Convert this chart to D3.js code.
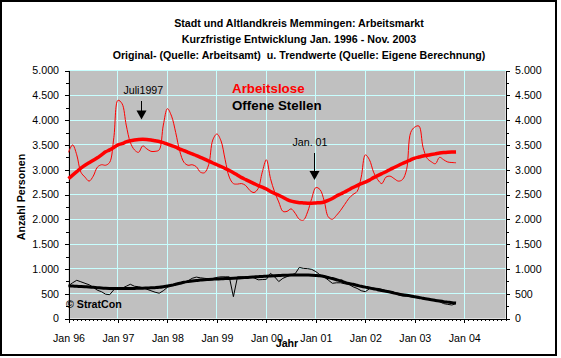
<!DOCTYPE html>
<html>
<head>
<meta charset="utf-8">
<script src="https://cdn.jsdelivr.net/npm/d3@7"></script>
<style>
body { margin: 0; background: #fff; }
text { font-family: Arial, "Liberation Sans", sans-serif; white-space: pre; }
</style>
</head>
<body>
<svg id="chart" width="561" height="358"></svg>
<script>
// monthly values Jan 96 .. Nov 03 (index 0 = Jan 96)
var arbeitslose = [
  3350,3500,3300,2950,2850,2770,2870,3050,3100,3090,3150,3650,
  4400,4330,3900,3550,3400,3350,3480,3420,3370,3370,3400,3900,
  4230,4080,3750,3370,3150,3090,3100,3060,2950,2940,3100,3600,
  3720,3580,3200,2850,2720,2710,2720,2680,2580,2540,2620,2950,
  3200,2820,2550,2350,2160,2160,2210,2120,2000,1985,2150,2420,
  2640,2600,2380,2050,2000,2080,2180,2300,2420,2500,2560,2850,
  3300,3200,2950,2800,2720,2850,2870,2820,2770,2800,3000,3750,
  3860,3880,3450,3230,3160,3120,3250,3200,3155,3145,3140
]
var arbeitsloseTrend = [
  2820,2890,2960,3030,3090,3140,3190,3240,3300,3360,3400,3450,
  3500,3525,3560,3585,3600,3610,3612,3610,3600,3585,3570,3545,
  3515,3485,3455,3415,3385,3350,3320,3285,3250,3215,3175,3135,
  3100,3065,3025,2985,2940,2890,2840,2800,2760,2720,2680,2650,
  2610,2560,2520,2485,2445,2400,2365,2350,2335,2330,2325,2325,
  2330,2335,2350,2380,2420,2470,2510,2550,2595,2640,2680,2720,
  2750,2790,2840,2880,2920,2960,3005,3045,3085,3125,3160,3200,
  3235,3255,3275,3290,3305,3320,3335,3345,3352,3356,3358
]
var offeneStellen = [
  660,720,770,740,710,680,630,570,540,490,480,580,
  610,610,650,690,650,640,620,590,560,530,510,560,
  630,680,700,720,730,760,810,835,820,810,800,800,
  830,840,840,840,440,840,840,840,840,820,780,785,
  790,910,840,745,810,845,880,905,1030,1010,1005,990,
  945,880,840,775,710,720,720,700,690,640,607,560,
  540,600,607,607,590,560,540,510,480,455,450,440,
  430,410,395,385,370,355,338,300,285,272,300
]
var offeneStellenTrend = [
  660,655,650,645,640,635,628,622,615,610,607,605,
  605,605,605,606,607,608,610,614,618,622,628,640,
  655,670,690,710,730,745,758,768,775,782,788,793,
  797,800,805,808,812,816,820,826,832,838,843,848,
  852,857,862,866,870,873,875,876,877,877,876,874,
  868,860,845,825,805,782,760,730,705,690,670,650,
  633,618,600,580,565,550,535,512,495,480,467,455,
  440,425,408,392,378,365,352,340,330,320,312
]
var yearLabels = ['Jan 96','Jan 97','Jan 98','Jan 99','Jan 00','Jan 01','Jan 02','Jan 03','Jan 04']
var yTicks = [0,500,1000,1500,2000,2500,3000,3500,4000,4500,5000]
var titleLines = [
  'Stadt und Altlandkreis Memmingen: Arbeitsmarkt',
  'Kurzfristige Entwicklung Jan. 1996 - Nov. 2003',
  'Original- (Quelle: Arbeitsamt)  u. Trendwerte (Quelle: Eigene Berechnung)'
]

var pLeft = 68.5, pRight = 505.5, pTop = 70.5, pBottom = 318.5
var x = d3.scaleLinear().domain([0, 106]).range([pLeft, pRight])
var y = d3.scaleLinear().domain([0, 5000]).range([pBottom, pTop])
var de = d3.formatLocale({decimal: ',', thousands: '.', grouping: [3], currency: ['', ' €']})
var fmt = de.format(',')

var svg = d3.select('#chart')

svg.append('rect').attr('x', 1).attr('y', 1).attr('width', 555).attr('height', 354)
    .attr('fill', '#fff').attr('stroke', '#000').attr('stroke-width', 2)

svg.append('rect').attr('x', pLeft).attr('y', pTop).attr('width', pRight - pLeft).attr('height', pBottom - pTop)
    .attr('fill', '#c0c0c0')

// grid
var grid = svg.append('g').attr('stroke', '#c8ffff').attr('shape-rendering', 'crispEdges')
grid.selectAll('.h').data(yTicks.slice(1)).enter().append('line')
    .attr('x1', pLeft).attr('x2', pRight).attr('y1', d => y(d)).attr('y2', d => y(d))
grid.selectAll('.v').data(d3.range(12, 97, 12)).enter().append('line')
    .attr('x1', d => x(d)).attr('x2', d => x(d)).attr('y1', pTop).attr('y2', pBottom)

// axes
function style(g) {
  g.attr('font-family', null).attr('font-size', null)
  g.selectAll('text').style('font-size', '10.67px').attr('fill', '#000')
  g.selectAll('line,path').attr('shape-rendering', 'crispEdges')
}
var yl = svg.append('g').attr('transform', 'translate(' + pLeft + ',0)')
    .call(d3.axisLeft(y).tickValues(yTicks).tickFormat(fmt).tickSize(4).tickSizeOuter(0))
yl.call(style); yl.selectAll('text').attr('x', -9.5)
svg.append('g').attr('transform', 'translate(' + pLeft + ',0)')
    .call(d3.axisLeft(y).tickValues(d3.range(250, 5000, 500)).tickFormat('').tickSize(3).tickSizeOuter(0))
    .call(style).select('.domain').remove()
var yr = svg.append('g').attr('transform', 'translate(' + pRight + ',0)')
    .call(d3.axisRight(y).tickValues(yTicks).tickFormat(fmt).tickSize(4).tickSizeOuter(0))
yr.call(style); yr.selectAll('text').attr('x', 9.5)
svg.append('g').attr('transform', 'translate(' + pRight + ',0)')
    .call(d3.axisRight(y).tickValues(d3.range(250, 5000, 500)).tickFormat('').tickSize(3).tickSizeOuter(0))
    .call(style).select('.domain').remove()

var xa = svg.append('g').attr('transform', 'translate(0,' + pBottom + ')')
    .call(d3.axisBottom(x).tickValues(d3.range(0, 97, 12)).tickFormat((d, i) => yearLabels[i]).tickSize(4).tickSizeOuter(0))
xa.call(style); xa.selectAll('text').attr('y', 15.5)
svg.append('g').attr('transform', 'translate(0,' + pBottom + ')')
    .call(d3.axisBottom(x).tickValues(d3.range(0, 107)).tickFormat('').tickSize(2).tickSizeOuter(0))
    .call(style).select('.domain').remove()

// lines
function drawLine(data, color, width, curve) {
  svg.append('path').datum(data)
      .attr('fill', 'none').attr('stroke', color).attr('stroke-width', width)
      .attr('d', d3.line().x((d, i) => x(i)).y(d => y(d)).curve(curve))
}
drawLine(offeneStellen, '#000', 1, d3.curveLinear)
drawLine(offeneStellenTrend, '#000', 3, d3.curveCatmullRom)
drawLine(arbeitslose, '#ff0000', 1, d3.curveCatmullRom.alpha(0.5))
drawLine(arbeitsloseTrend, '#ff0000', 3.5, d3.curveCatmullRom)

// titles
svg.selectAll('.title').data(titleLines).enter().append('text')
    .attr('x', 299).attr('y', (d, i) => 27 + i * 16)
    .attr('text-anchor', 'middle').style('font-size', '10.67px').style('font-weight', 'bold')
    .text(d => d)

svg.append('text').attr('x', 232).attr('y', 93).attr('fill', '#ff0000')
    .style('font-size', '13.33px').style('font-weight', 'bold').text('Arbeitslose')
svg.append('text').attr('x', 232).attr('y', 110).attr('fill', '#000')
    .style('font-size', '13.33px').style('font-weight', 'bold').text('Offene Stellen')

// annotations
function arrow(ax, y1, y2) {
  svg.append('line').attr('x1', ax).attr('x2', ax).attr('y1', y1).attr('y2', y2 - 8)
      .attr('stroke', '#000').attr('stroke-width', 1)
  svg.append('path').attr('d', 'M' + (ax - 5) + ',' + (y2 - 9) + 'L' + (ax + 5) + ',' + (y2 - 9) + 'L' + ax + ',' + y2 + 'Z')
      .attr('fill', '#000')
}
svg.append('text').attr('x', 123.5).attr('y', 93.5).style('font-size', '10.67px').text('Juli1997')
arrow(141.5, 101, 119.5)
svg.append('text').attr('x', 292.5).attr('y', 145.5).style('font-size', '10.67px').text('Jan. 01')
arrow(314.5, 153, 180)

svg.append('text').attr('x', 66).attr('y', 308).style('font-size', '10.67px').style('font-weight', 'bold')
    .text('\u00a9 StratCon')

svg.append('text').attr('transform', 'translate(25,197) rotate(-90)').attr('text-anchor', 'middle')
    .style('font-size', '10.67px').style('font-weight', 'bold').text('Anzahl Personen')
svg.append('text').attr('x', 287).attr('y', 347).attr('text-anchor', 'middle')
    .style('font-size', '10.67px').style('font-weight', 'bold').text('Jahr')
</script>
</body>
</html>
